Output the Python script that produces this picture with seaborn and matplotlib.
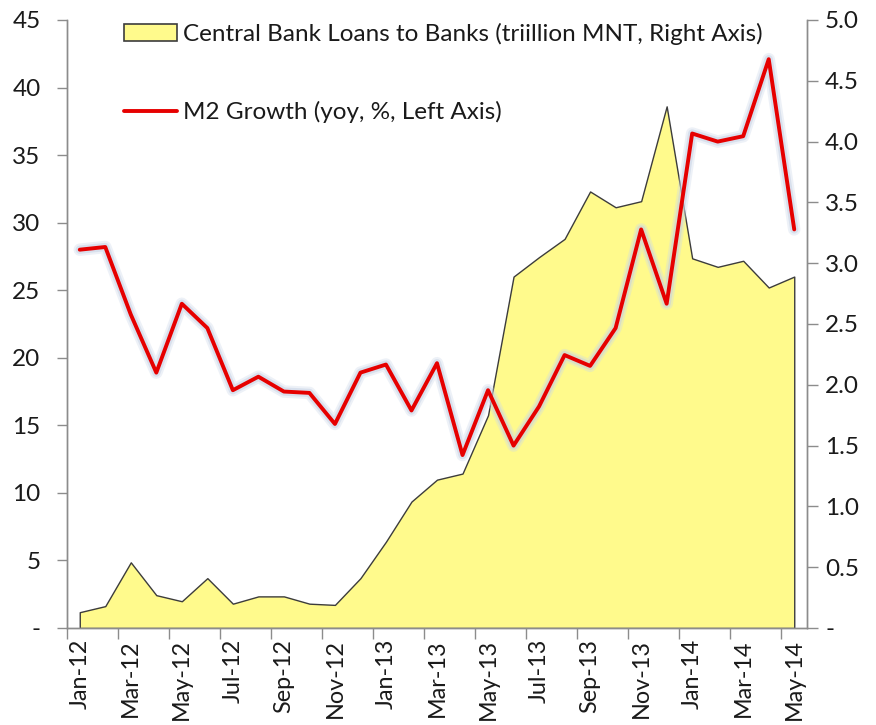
import matplotlib
matplotlib.use("Agg")
import matplotlib.pyplot as plt
import matplotlib.patheffects as pe
from matplotlib.patches import Patch
from matplotlib.lines import Line2D
import numpy as np
import pandas as pd
import seaborn as sns

sns.set_theme(style="white")
plt.rcParams["font.family"] = ["Lato", "DejaVu Sans"]

months = ["Jan-12", "Feb-12", "Mar-12", "Apr-12", "May-12", "Jun-12", "Jul-12", "Aug-12",
          "Sep-12", "Oct-12", "Nov-12", "Dec-12", "Jan-13", "Feb-13", "Mar-13", "Apr-13",
          "May-13", "Jun-13", "Jul-13", "Aug-13", "Sep-13", "Oct-13", "Nov-13", "Dec-13",
          "Jan-14", "Feb-14", "Mar-14", "Apr-14", "May-14"]

# M2 growth, yoy %, left axis
m2_growth = [28.0, 28.2, 23.2, 18.9, 24.0, 22.2, 17.6, 18.6, 17.5, 17.4, 15.1, 18.9,
             19.5, 16.1, 19.6, 12.8, 17.6, 13.5, 16.4, 20.2, 19.4, 22.2, 29.5, 24.0,
             36.6, 36.0, 36.4, 42.1, 29.5]

# Central bank loans to banks, trillion MNT, right axis
cb_loans = [0.13, 0.18, 0.54, 0.27, 0.22, 0.41, 0.20, 0.26, 0.26, 0.20, 0.19, 0.41,
            0.71, 1.04, 1.22, 1.27, 1.75, 2.89, 3.05, 3.20, 3.59, 3.46, 3.51, 4.29,
            3.04, 2.97, 3.02, 2.80, 2.89]

left_ticks = [0, 5, 10, 15, 20, 25, 30, 35, 40, 45]
right_ticks = [0, 0.5, 1.0, 1.5, 2.0, 2.5, 3.0, 3.5, 4.0, 4.5, 5.0]

loans_label = "Central Bank Loans to Banks (triillion MNT, Right Axis)"
m2_label = "M2 Growth (yoy, %, Left Axis)"

YELLOW = "#FFFA8C"
RED = "#E60000"
GRAY = "#8C8C8C"
TEXT = "#1a1a1a"
FS = 17.5

df = pd.DataFrame({"month": months, "m2": m2_growth, "loans": cb_loans})
df["pos"] = np.arange(len(df))

fig = plt.figure(figsize=(8.76, 7.25), dpi=100)
ax = fig.add_axes([67 / 876, 1 - 628 / 725, 740 / 876, 608 / 725])
ax2 = ax.twinx()

# yellow area on the right axis
ax2.fill_between(df["pos"], df["loans"], 0, facecolor=YELLOW, edgecolor="#3c3c3c",
                 linewidth=1.0, zorder=2)
ax2.set_ylim(0, 5)
ax2.set_yticks(right_ticks)
ax2.set_yticklabels(["-" if v == 0 else f"{v:.1f}" for v in right_ticks])

# red M2 line on the left axis, drawn above the area
glow = [pe.Stroke(linewidth=9, foreground="#cdd8ea", alpha=0.35),
        pe.Stroke(linewidth=6, foreground="#c4d0e4", alpha=0.5),
        pe.Normal()]
sns.lineplot(data=df, x="pos", y="m2", ax=ax, color=RED, linewidth=2.8,
             path_effects=glow, zorder=3)
ax.set_zorder(ax2.get_zorder() + 1)
ax.patch.set_visible(False)

ax.set_ylim(0, 45)
ax.set_yticks(left_ticks)
ax.set_yticklabels(["-" if v == 0 else str(v) for v in left_ticks])

ax.set_xlim(-0.5, 28.5)
ax.set_xticks(np.arange(-0.5, 28.5, 2))
ax.set_xticklabels([])
ax.set_xticks(df["pos"][::2], minor=True)
ax.set_xticklabels(df["month"][::2], minor=True, rotation=90)
ax.set_xlabel("")
ax.set_ylabel("")
ax2.set_ylabel("")

ax.tick_params(axis="x", which="major", direction="out", length=8, width=1,
               color=GRAY, bottom=True)
ax.tick_params(axis="x", which="minor", length=0, labelsize=16.8, labelcolor=TEXT, pad=8)
ax.tick_params(axis="y", direction="out", length=7, width=1, color=GRAY,
               labelsize=FS, labelcolor=TEXT, pad=12, left=True)
ax2.tick_params(axis="y", direction="out", length=8, width=1, color=GRAY,
                labelsize=FS, labelcolor=TEXT, pad=5, right=True)

for a in (ax, ax2):
    a.grid(False)
    a.spines["top"].set_visible(False)
    for s in ("left", "right", "bottom"):
        a.spines[s].set_color(GRAY)
        a.spines[s].set_linewidth(1.0)

handles = [Patch(facecolor=YELLOW, edgecolor="#3c3c3c", linewidth=1.2),
           Line2D([], [], color=RED, linewidth=2.8)]
ax.legend(handles, [loans_label, m2_label], loc="upper left",
          bbox_to_anchor=(0.077, 0.995), frameon=False, fontsize=FS,
          handlelength=2.18, handleheight=0.65, handletextpad=0.25,
          labelspacing=2.3, borderpad=0, borderaxespad=0, labelcolor=TEXT)

fig.savefig("out.png", dpi=100, facecolor="white")
